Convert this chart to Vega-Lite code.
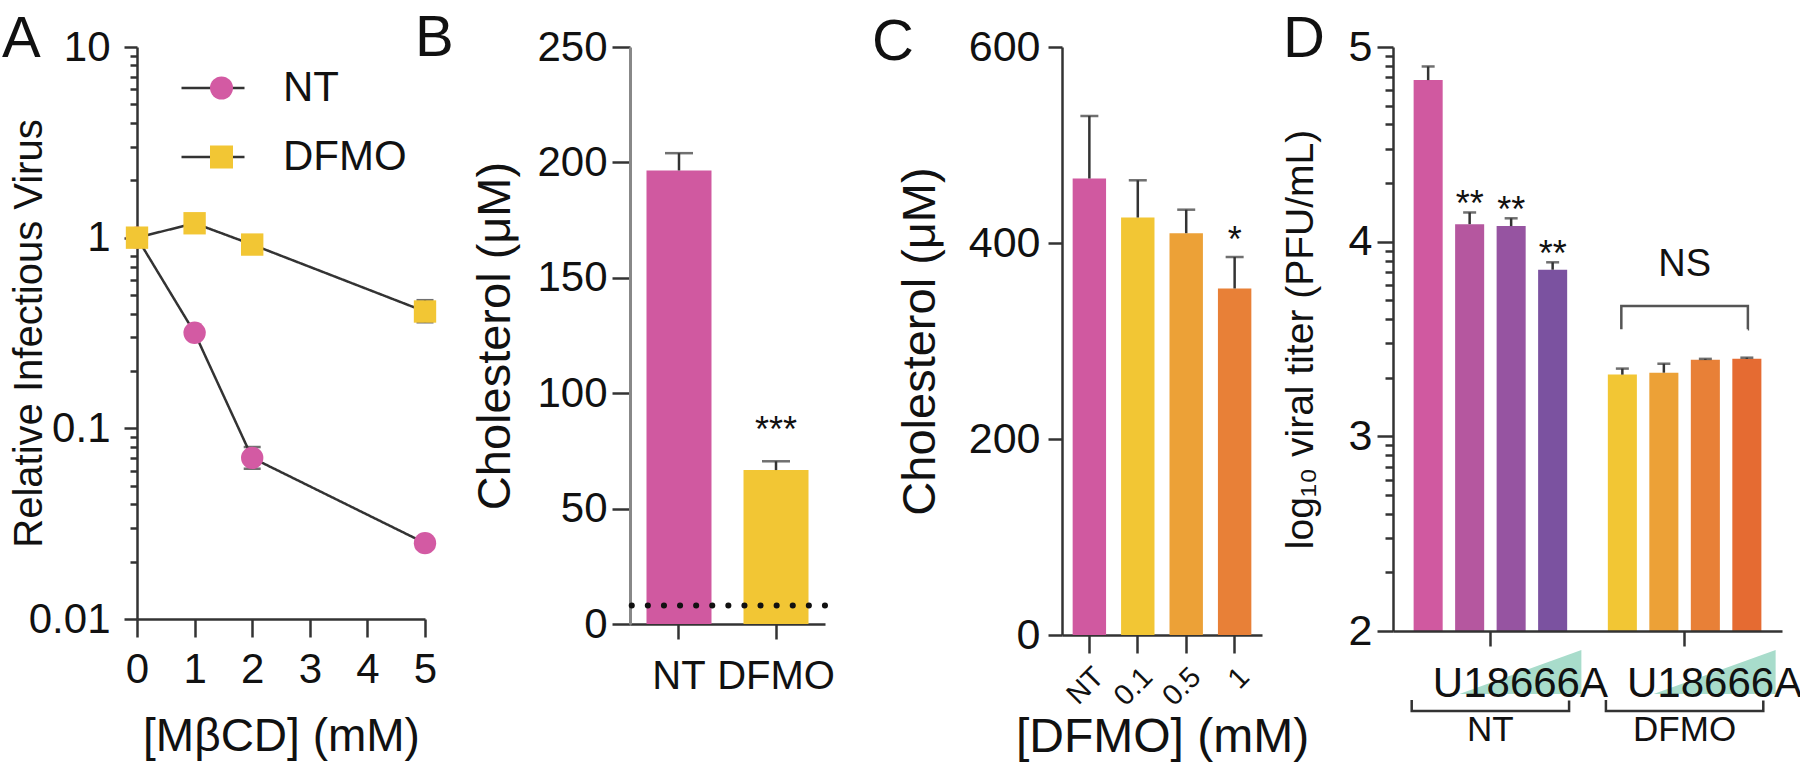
{
  "$schema": "https://vega.github.io/schema/vega-lite/v6.json",
  "background": "white",
  "padding": {"left": 2, "top": 10, "right": 0, "bottom": 0},
  "spacing": 0,
  "bounds": "flush",
  "resolve": {
    "scale": {"color": "independent", "shape": "independent", "strokeDash": "independent"},
    "legend": {"color": "independent", "shape": "independent", "strokeDash": "independent"}
  },
  "config": {
    "view": {"stroke": null},
    "font": "Liberation Sans",
    "axis": {
      "labelFont": "Liberation Sans", "titleFont": "Liberation Sans", "titleFontWeight": "normal",
      "labelColor": "#111", "titleColor": "#111", "domainColor": "#333", "tickColor": "#333",
      "domainWidth": 2.5, "tickWidth": 2.5, "grid": false, "labelFlush": false, "labelOverlap": false, "labelBound": false
    },
    "legend": {"labelFont": "Liberation Sans", "labelColor": "#111"},
    "title": {"font": "Liberation Sans", "fontWeight": "normal", "fontSize": 58, "color": "#111", "anchor": "start", "frame": "group", "offset": 0, "baseline": "alphabetic"},
    "text": {"font": "Liberation Sans", "color": "#111"}
  },
  "datasets": {
    "virus": [
      {"treatment": "NT", "mbcd": 0, "rel": 1, "lo": 1, "hi": 1},
      {"treatment": "NT", "mbcd": 1, "rel": 0.317, "lo": 0.305, "hi": 0.33},
      {"treatment": "NT", "mbcd": 2, "rel": 0.07, "lo": 0.0614, "hi": 0.0798},
      {"treatment": "NT", "mbcd": 5, "rel": 0.025, "lo": 0.024, "hi": 0.026},
      {"treatment": "DFMO", "mbcd": 0, "rel": 1, "lo": 1, "hi": 1},
      {"treatment": "DFMO", "mbcd": 1, "rel": 1.19, "lo": 1.15, "hi": 1.23},
      {"treatment": "DFMO", "mbcd": 2, "rel": 0.92, "lo": 0.89, "hi": 0.95},
      {"treatment": "DFMO", "mbcd": 5, "rel": 0.41, "lo": 0.36, "hi": 0.47}
    ],
    "chol1": [
      {"treatment": "NT", "chol": 196.5, "hi": 204, "sig": ""},
      {"treatment": "DFMO", "chol": 66.7, "hi": 70.5, "sig": "***"}
    ],
    "lod": [{"lod": 8}],
    "chol2": [
      {"dfmo": "NT", "chol": 465.8, "hi": 529.6, "sig": ""},
      {"dfmo": "0.1", "chol": 426, "hi": 464, "sig": ""},
      {"dfmo": "0.5", "chol": 410, "hi": 434, "sig": ""},
      {"dfmo": "1", "chol": 353.6, "hi": 385.7, "sig": "*"}
    ],
    "titer": [
      {"grp": "NT", "dose": "0", "id": "NT-0", "titer": 4.83, "hi": 4.9, "sig": ""},
      {"grp": "NT", "dose": "1", "id": "NT-1", "titer": 4.09, "hi": 4.15, "sig": "**"},
      {"grp": "NT", "dose": "2", "id": "NT-2", "titer": 4.08, "hi": 4.12, "sig": "**"},
      {"grp": "NT", "dose": "3", "id": "NT-3", "titer": 3.856, "hi": 3.894, "sig": "**"},
      {"grp": "DFMO", "dose": "0", "id": "DFMO-0", "titer": 3.317, "hi": 3.348, "sig": ""},
      {"grp": "DFMO", "dose": "1", "id": "DFMO-1", "titer": 3.327, "hi": 3.373, "sig": ""},
      {"grp": "DFMO", "dose": "2", "id": "DFMO-2", "titer": 3.393, "hi": 3.398, "sig": ""},
      {"grp": "DFMO", "dose": "3", "id": "DFMO-3", "titer": 3.398, "hi": 3.404, "sig": ""}
    ],
    "groups": [
      {"grp": "NT"},
      {"grp": "DFMO"}
    ]
  },
  "hconcat": [
    {
      "width": 288, "height": 572,
      "title": {"text": "A", "dx": -135, "dy": 47},
      "data": {"name": "virus"},
      "layer": [
        {
          "mark": {"type": "line", "color": "#333", "strokeWidth": 2.5},
          "encoding": {
            "x": {"field": "mbcd", "type": "quantitative", "scale": {"domain": [0, 5], "nice": false},
              "axis": {"values": [0, 1, 2, 3, 4, 5], "format": "d", "title": "[MβCD] (mM)", "labelFontSize": 42, "titleFontSize": 46, "tickSize": 18, "labelPadding": 12, "titlePadding": 24, "labelOverlap": false}},
            "y": {"field": "rel", "type": "quantitative", "scale": {"type": "log", "domain": [0.01, 10], "nice": false},
              "axis": {
                "values": [0.01, 0.02, 0.03, 0.04, 0.05, 0.06, 0.07, 0.08, 0.09, 0.1, 0.2, 0.3, 0.4, 0.5, 0.6, 0.7, 0.8, 0.9, 1, 2, 3, 4, 5, 6, 7, 8, 9, 10],
                "format": "~g",
                "labelExpr": "abs(log(datum.value)/LN10 - round(log(datum.value)/LN10)) < 0.001 ? datum.label : ''",
                "tickSize": {"condition": {"test": "abs(log(datum.value)/LN10 - round(log(datum.value)/LN10)) < 0.001", "value": 13}, "value": 7},
                "labelOverlap": false,
                "labelFontSize": 42, "labelPadding": 14, "title": "Relative Infectious Virus", "titleFontSize": 40, "titlePadding": -21}},
            "strokeDash": {"field": "treatment", "type": "nominal", "sort": ["NT", "DFMO"], "scale": {"range": [[1, 0], [1, 0]]},
              "legend": {"orient": "none", "legendX": 43, "legendY": 21, "title": null, "symbolType": "stroke", "symbolSize": 3969, "symbolStrokeColor": "#333", "symbolStrokeWidth": 2.5, "clipHeight": 40, "rowPadding": 27, "labelOffset": 37, "labelFontSize": 42, "padding": 0, "labelLimit": 400}}
          }
        },
        {
          "mark": {"type": "rule", "color": "#333", "strokeWidth": 2.5},
          "encoding": {
            "x": {"field": "mbcd", "type": "quantitative"},
            "y": {"field": "lo", "type": "quantitative"},
            "y2": {"field": "hi"}
          }
        },
        {
          "mark": {"type": "tick", "orient": "horizontal", "size": 17, "thickness": 2.5, "color": "#333"},
          "encoding": {"x": {"field": "mbcd", "type": "quantitative"}, "y": {"field": "lo", "type": "quantitative"}}
        },
        {
          "mark": {"type": "tick", "orient": "horizontal", "size": 17, "thickness": 2.5, "color": "#333"},
          "encoding": {"x": {"field": "mbcd", "type": "quantitative"}, "y": {"field": "hi", "type": "quantitative"}}
        },
        {
          "mark": {"type": "point", "filled": true, "size": 500, "opacity": 1, "strokeWidth": 0},
          "encoding": {
            "x": {"field": "mbcd", "type": "quantitative"},
            "y": {"field": "rel", "type": "quantitative"},
            "color": {"field": "treatment", "type": "nominal", "scale": {"domain": ["NT", "DFMO"], "range": ["#d35aa3", "#f2c634"]},
              "legend": {"orient": "top-left", "offset": 21, "symbolOffset": 42.5, "title": null, "symbolSize": 529, "symbolStrokeWidth": 0, "clipHeight": 40, "rowPadding": 27, "labelExpr": "''", "labelOpacity": 0, "labelFontSize": 42, "padding": 0, "symbolOpacity": 1}},
            "shape": {"field": "treatment", "type": "nominal", "scale": {"domain": ["NT", "DFMO"], "range": ["circle", "square"]},
              "legend": {"orient": "top-left", "offset": 21, "symbolOffset": 42.5, "title": null, "symbolSize": 529, "symbolStrokeWidth": 0, "clipHeight": 40, "rowPadding": 27, "labelExpr": "''", "labelOpacity": 0, "labelFontSize": 42, "padding": 0, "symbolOpacity": 1}}
          }
        }
      ]
    },
    {"width": 205, "height": 572, "data": {"values": [{"k": 0}]}, "mark": {"type": "point", "opacity": 0}, "encoding": {}},
    {
      "width": 195, "height": 577,
      "title": {"text": "B", "dx": -215, "dy": 46},
      "data": {"name": "chol1"},
      "encoding": {
        "x": {"field": "treatment", "type": "nominal", "sort": ["NT", "DFMO"], "scale": {"paddingInner": 0.33, "paddingOuter": 0.17},
          "axis": {"title": null, "labelAngle": 0, "labelFontSize": 40, "tickSize": 15, "labelPadding": 17}}
      },
      "layer": [
        {
          "mark": {"type": "bar"},
          "encoding": {
            "y": {"field": "chol", "type": "quantitative", "scale": {"domain": [0, 250], "nice": false},
              "axis": {"values": [0, 50, 100, 150, 200, 250], "title": "Cholesterol (μM)", "titleFontSize": 47, "labelFontSize": 42, "tickSize": 18, "labelPadding": 5, "titlePadding": 17, "domainColor": "#888", "domainWidth": 3, "labelOverlap": false}},
            "color": {"field": "treatment", "type": "nominal", "scale": {"domain": ["NT", "DFMO"], "range": ["#d059a0", "#f2c634"]}, "legend": null}
          }
        },
        {
          "mark": {"type": "rule", "color": "#333", "strokeWidth": 2.5},
          "encoding": {"y": {"field": "chol", "type": "quantitative"}, "y2": {"field": "hi"}}
        },
        {
          "mark": {"type": "tick", "orient": "horizontal", "size": 28, "thickness": 2.5, "color": "#333"},
          "encoding": {"y": {"field": "hi", "type": "quantitative"}}
        },
        {
          "mark": {"type": "text", "fontSize": 36, "dy": -19, "baseline": "alphabetic"},
          "encoding": {"y": {"field": "hi", "type": "quantitative"}, "text": {"field": "sig"}}
        },
        {
          "data": {"name": "lod"},
          "mark": {"type": "rule", "color": "#111", "strokeWidth": 6, "strokeDash": [0.1, 16], "strokeCap": "round"},
          "encoding": {"y": {"field": "lod", "type": "quantitative"}, "x": null}
        }
      ]
    },
    {"width": 237, "height": 572, "data": {"values": [{"k": 0}]}, "mark": {"type": "point", "opacity": 0}, "encoding": {}},
    {
      "width": 200, "height": 588,
      "title": {"text": "C", "dx": -190, "dy": 50},
      "data": {"name": "chol2"},
      "encoding": {
        "x": {"field": "dfmo", "type": "nominal", "sort": ["NT", "0.1", "0.5", "1"], "scale": {"paddingInner": 0.31, "paddingOuter": 0.22},
          "axis": {"title": "[DFMO] (mM)", "titleFontSize": 48, "labelAngle": -45, "labelFontSize": 29, "tickSize": 18, "labelPadding": 9, "titlePadding": 2}}
      },
      "layer": [
        {
          "mark": {"type": "bar"},
          "encoding": {
            "y": {"field": "chol", "type": "quantitative", "scale": {"domain": [0, 600], "nice": false},
              "axis": {"values": [0, 200, 400, 600], "title": "Cholesterol (μM)", "titleFontSize": 47, "labelFontSize": 43, "tickSize": 14, "labelPadding": 8, "titlePadding": 24, "labelOverlap": false}},
            "color": {"field": "dfmo", "type": "nominal", "scale": {"domain": ["NT", "0.1", "0.5", "1"], "range": ["#d059a0", "#f2c634", "#eca137", "#e88037"]}, "legend": null}
          }
        },
        {
          "mark": {"type": "rule", "color": "#333", "strokeWidth": 2.5},
          "encoding": {"y": {"field": "chol", "type": "quantitative"}, "y2": {"field": "hi"}}
        },
        {
          "mark": {"type": "tick", "orient": "horizontal", "size": 18, "thickness": 2.5, "color": "#333"},
          "encoding": {"y": {"field": "hi", "type": "quantitative"}}
        },
        {
          "mark": {"type": "text", "fontSize": 36, "dy": -5, "baseline": "alphabetic"},
          "encoding": {"y": {"field": "hi", "type": "quantitative"}, "text": {"field": "sig"}}
        }
      ]
    },
    {"width": 131, "height": 572, "data": {"values": [{"k": 0}]}, "mark": {"type": "point", "opacity": 0}, "encoding": {}},
    {
      "width": 389, "height": 584,
      "title": {"text": "D", "dx": -110, "dy": 47},
      "resolve": {"axis": {"y": "independent"}},
      "layer": [
        {
          "data": {"name": "titer"},
          "mark": {"type": "bar"},
          "encoding": {
            "x": {"field": "grp", "type": "nominal", "sort": ["NT", "DFMO"], "scale": {"paddingInner": 0.147, "paddingOuter": 0.075},
              "axis": {"title": null, "labelExpr": "'U18666A'", "labelAngle": 0, "labelOffset": 30, "labelFontSize": 42, "tickSize": 15, "labelPadding": 17, "zindex": 1}},
            "xOffset": {"field": "dose", "type": "nominal", "sort": ["0", "1", "2", "3"], "scale": {"paddingInner": 0.3, "paddingOuter": 0.146}},
            "y": {"field": "titer", "type": "quantitative", "scale": {"domain": [2, 5], "zero": false, "nice": false},
              "axis": {"orient": "left", "values": [2, 3, 4, 5], "format": "d", "tickSize": 16, "labelFontSize": 43, "labelOverlap": false,
                "labelPadding": 5, "title": "log₁₀ viral titer (PFU/mL)", "titleFontSize": 39, "titlePadding": 28}},
            "y2": {"datum": 2},
            "color": {"field": "id", "type": "nominal",
              "scale": {"domain": ["NT-0", "NT-1", "NT-2", "NT-3", "DFMO-0", "DFMO-1", "DFMO-2", "DFMO-3"],
                "range": ["#d059a0", "#b5579f", "#9654a1", "#7b52a0", "#f2c634", "#eca137", "#e88037", "#e56b32"]}, "legend": null}
          }
        },
        {
          "data": {"name": "titer"},
          "mark": {"type": "rule", "color": "#333", "strokeWidth": 2.5},
          "encoding": {
            "x": {"field": "grp", "type": "nominal", "sort": ["NT", "DFMO"]},
            "xOffset": {"field": "dose", "type": "nominal", "sort": ["0", "1", "2", "3"]},
            "y": {"field": "titer", "type": "quantitative",
              "axis": {"orient": "left", "values": [2.301, 2.477, 2.602, 2.699, 2.778, 2.845, 2.903, 2.954, 3.301, 3.477, 3.602, 3.699, 3.778, 3.845, 3.903, 3.954, 4.301, 4.477, 4.602, 4.699, 4.778, 4.845, 4.903, 4.954],
                "labels": false, "domain": false, "tickSize": 8, "title": null}},
            "y2": {"field": "hi"}
          }
        },
        {
          "data": {"name": "titer"},
          "mark": {"type": "tick", "orient": "horizontal", "size": 13, "thickness": 2.5, "color": "#333"},
          "encoding": {
            "x": {"field": "grp", "type": "nominal", "sort": ["NT", "DFMO"]},
            "xOffset": {"field": "dose", "type": "nominal", "sort": ["0", "1", "2", "3"]},
            "y": {"field": "hi", "type": "quantitative", "axis": null}
          }
        },
        {
          "data": {"name": "titer"},
          "mark": {"type": "text", "fontSize": 36, "dy": 4, "baseline": "alphabetic"},
          "encoding": {
            "x": {"field": "grp", "type": "nominal", "sort": ["NT", "DFMO"]},
            "xOffset": {"field": "dose", "type": "nominal", "sort": ["0", "1", "2", "3"]},
            "y": {"field": "hi", "type": "quantitative", "axis": null},
            "text": {"field": "sig"}
          }
        },
        {
          "data": {"name": "groups"},
          "mark": {"type": "point", "shape": "M -1 0.3607 L 1 -0.3607 L 1 0.3607 Z", "size": 14884, "filled": true, "color": "#a8dccb", "opacity": 1, "strokeWidth": 0, "xOffset": 30},
          "encoding": {
            "x": {"field": "grp", "type": "nominal", "sort": ["NT", "DFMO"]},
            "y": {"datum": 1.789, "type": "quantitative", "axis": null}
          }
        },
        {
          "data": {"name": "groups"},
          "mark": {"type": "rect", "fillOpacity": 0, "stroke": "#333", "strokeWidth": 2.5, "width": {"band": 0.95}, "strokeDash": [0, 158, 200]},
          "encoding": {
            "x": {"field": "grp", "type": "nominal", "sort": ["NT", "DFMO"]},
            "y": {"datum": 1.646, "type": "quantitative", "axis": null},
            "y2": {"datum": 1.589}
          }
        },
        {
          "data": {"name": "groups"},
          "mark": {"type": "text", "fontSize": 35, "baseline": "middle"},
          "encoding": {
            "x": {"field": "grp", "type": "nominal", "sort": ["NT", "DFMO"]},
            "y": {"datum": 1.491, "type": "quantitative", "axis": null},
            "text": {"field": "grp"}
          }
        },
        {
          "data": {"name": "groups"},
          "transform": [{"filter": "datum.grp === 'DFMO'"}],
          "mark": {"type": "rect", "fillOpacity": 0, "stroke": "#555", "strokeWidth": 2.5, "width": {"band": 0.764}, "strokeDash": [150, 126.6, 40]},
          "encoding": {
            "x": {"field": "grp", "type": "nominal", "sort": ["NT", "DFMO"]},
            "y": {"datum": 3.67, "type": "quantitative", "axis": null},
            "y2": {"datum": 3.55}
          }
        },
        {
          "data": {"name": "groups"},
          "transform": [{"filter": "datum.grp === 'DFMO'"}],
          "mark": {"type": "text", "fontSize": 38, "baseline": "middle"},
          "encoding": {
            "x": {"field": "grp", "type": "nominal", "sort": ["NT", "DFMO"]},
            "y": {"datum": 3.88, "type": "quantitative", "axis": null},
            "text": {"value": "NS"}
          }
        }
      ]
    }
  ]
}
